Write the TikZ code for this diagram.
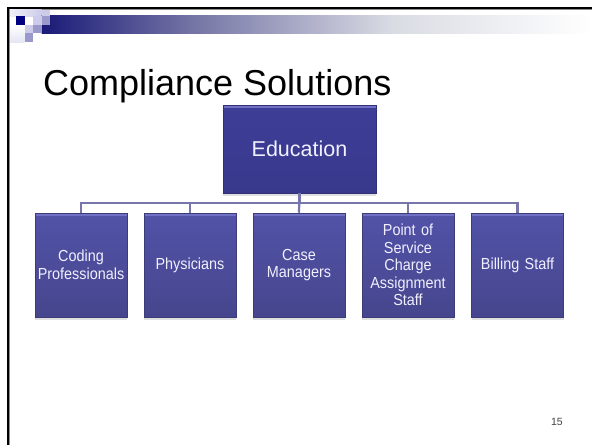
\documentclass[tikz,border=0pt]{standalone}
\usepackage{fontspec}
\setmainfont{Liberation Sans}
\newfontfamily\narrowsans[FakeStretch=0.9]{Liberation Sans}
\usepackage{tikz}
\usetikzlibrary{shadows}

\definecolor{barnavy}{RGB}{26,26,120}
\definecolor{barmid}{RGB}{118,118,166}
\definecolor{barlight}{RGB}{218,220,228}
\definecolor{sqnavy}{RGB}{0,0,128}
\definecolor{sqlight}{RGB}{204,204,234}
\definecolor{sqmid}{RGB}{153,153,204}
\definecolor{boxtop}{RGB}{82,82,168}
\definecolor{boxbottom}{RGB}{70,70,142}
\definecolor{boxrim}{RGB}{112,112,196}
\definecolor{headtop}{RGB}{62,62,152}
\definecolor{headbottom}{RGB}{56,56,140}
\definecolor{linkcol}{RGB}{118,118,170}

% fading bar under the slide corner
\pgfdeclarehorizontalshading{barfade}{100bp}{color(0bp)=(barnavy); color(25bp)=(barnavy); color(39bp)=(barmid); color(57bp)=(barlight); color(75bp)=(white); color(100bp)=(white)}

\begin{document}
\begin{tikzpicture}[
    x=1pt, y=-1pt,
    every node/.style={inner sep=0pt},
    rim/.style={path picture={\fill[boxrim] (path picture bounding box.north west) rectangle ([yshift=-2.5pt]path picture bounding box.north east);}},
    headbox/.style={draw=headbottom!85!black, line width=0.5pt, top color=headtop, bottom color=headbottom, minimum width=153pt, minimum height=88pt, align=center, text=white!94!blue, font=\fontsize{21.5}{25}\selectfont, drop shadow={shadow xshift=0pt, shadow yshift=-3pt, fill=black!12, opacity=1}, rim},
    unitbox/.style={draw=boxbottom!85!black, line width=0.5pt, top color=boxtop, bottom color=boxbottom, minimum width=92pt, minimum height=104pt, text width=88pt, align=center, text=white!94!blue, font=\narrowsans\fontsize{16}{17.5}\selectfont, drop shadow={shadow xshift=0pt, shadow yshift=-3pt, fill=black!12, opacity=1}, rim},
    branch/.style={draw=linkcol, line width=2.2pt},
    title/.style={font=\fontsize{36}{40}\selectfont},
    pagenum/.style={font=\fontsize{10.5}{12}\selectfont, text=black!75}
]
\useasboundingbox (0,0) rectangle (592,445);

% slide frame
\draw[black, line width=2.2pt] (8,445) -- (8,7.6) -- (592,7.6);
\draw[black!45, line width=0.8pt] (9.6,445) -- (9.6,9.2) -- (592,9.2);

% corner ornament
\shade[left color=sqlight!30, right color=sqlight] (10,9.8) rectangle (41.5,16);
\shade[top color=white, bottom color=sqlight!50] (10,24.5) rectangle (24.5,42);
\shade[shading=barfade] (41.5,15.5) rectangle (592,33);
\fill[sqnavy] (16,16) rectangle (24.5,24.5);
\fill[sqlight] (33,16) rectangle (41.5,24.5);
\fill[sqmid] (41.5,16) rectangle (50,24.5);
\fill[sqlight] (41.5,9.8) rectangle (50,16);
\fill[sqlight] (24.5,24.5) rectangle (33,33);
\fill[sqmid] (33,24.5) rectangle (41.5,33);
\fill[sqmid] (24.5,33) rectangle (33,41.5);

\node[title, anchor=base west] (heading) at (43,95) {Compliance Solutions};

\node[headbox] (edu) at (299.5,149) {Education};

\node[unitbox] (coding) at (81,265) {Coding\\Professionals};
\node[unitbox] (physicians) at (190,265) {Physicians};
\node[unitbox] (managers) at (299,265) {Case\\Managers};
\node[unitbox] (posstaff) at (408,265) {Point of\\Service\\Charge\\Assignment\\Staff};
\node[unitbox] (billing) at (517.5,265) {Billing Staff};

\draw[branch] (edu.south) -- ++(0,10) -| (coding.north);
\draw[branch] (edu.south) -- ++(0,10) -| (physicians.north);
\draw[branch] (edu.south) -- (managers.north);
\draw[branch] (edu.south) -- ++(0,10) -| (posstaff.north);
\draw[branch] (edu.south) -- ++(0,10) -| (billing.north);

\node[pagenum, anchor=base east] (page) at (563,425) {15};
\end{tikzpicture}
\end{document}
